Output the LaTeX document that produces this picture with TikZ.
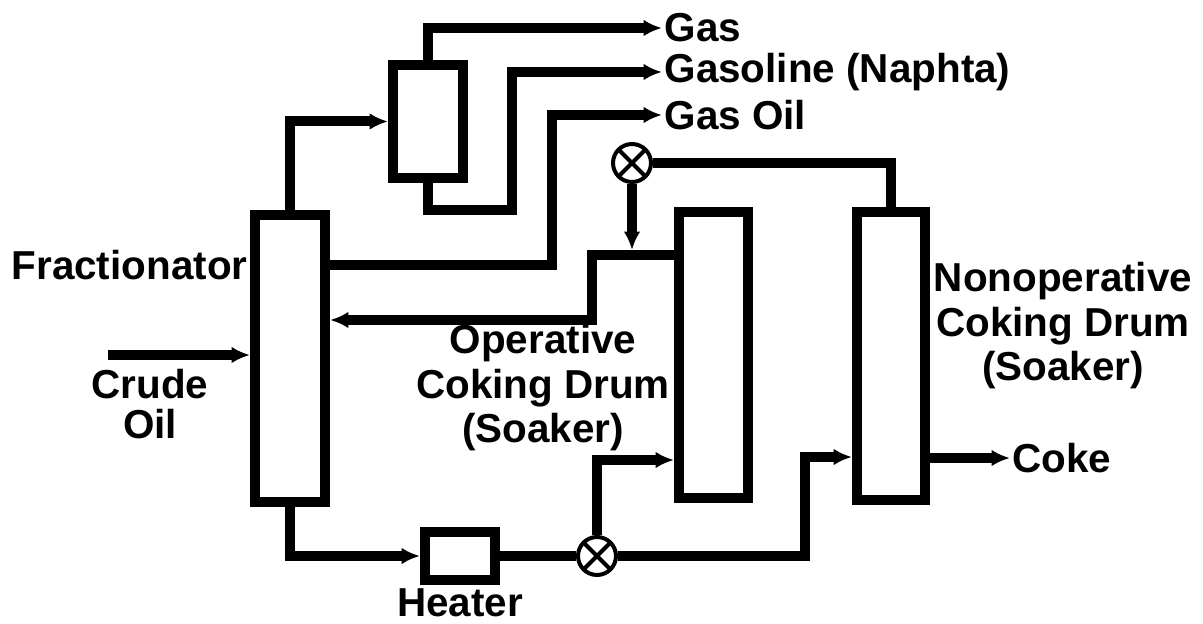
\documentclass[tikz,border=0pt]{standalone}
\usepackage{fontspec}
\setmainfont{Liberation Sans}
\usetikzlibrary{arrows.meta}

\begin{document}
\begin{tikzpicture}[x=0.03cm, y=-0.03cm,
		vessel/.style = {draw, rectangle, line width=0.3cm, inner sep=0pt},
		valve/.style = {draw, circle, line width=0.12cm, minimum size=1.14cm, inner sep=0pt,
			path picture = {\draw [line width=0.12cm]
				(path picture bounding box.north west) -- (path picture bounding box.south east)
				(path picture bounding box.north east) -- (path picture bounding box.south west);}},
		pipe/.style = {line width=0.3cm},
		flow/.style = {pipe, -{Latex[length=0.55cm, width=0.5cm]}},
		txt/.style = {font=\fontsize{34.5}{38}\selectfont\bfseries, inner sep=2pt, align=center}]
		
		%frame of the picture
		\useasboundingbox (0,0) rectangle (1203,624);
		
		%vessels
		\node [vessel, minimum width=2.1cm, minimum height=8.61cm] (frac) at (290,358.5) {};
		\node [vessel, minimum width=2.1cm, minimum height=3.39cm] (cond) at (428,121.5) {};
		\node [vessel, minimum width=2.07cm, minimum height=8.58cm] (op) at (713.5,355) {};
		\node [vessel, minimum width=2.04cm, minimum height=8.64cm] (nonop) at (891,356) {};
		\node [vessel, minimum width=2.1cm, minimum height=1.44cm] (heater) at (460,556) {};
		
		%valves
		\node [valve] (vtop) at (632,163) {};
		\node [valve] (vbot) at (597,556) {};
		
		%labels
		\node [txt, anchor=west] (gas) at (662,28) {Gas};
		\node [txt, anchor=west] (gasoline) at (662,72) {Gasoline (Naphta)};
		\node [txt, anchor=west] (gasoil) at (662,115) {Gas Oil};
		\node [txt, anchor=east] (fraclabel) at (250,265) {Fractionator};
		\node [txt, font=\fontsize{34.5}{34}\selectfont\bfseries] (crudelabel) at (150,404) {Crude\\Oil};
		\node [txt] (oplabel) at (543,388) {Operative\\Coking Drum\\(Soaker)};
		\node [txt] (nonoplabel) at (1063,326) {Nonoperative\\Coking Drum\\(Soaker)};
		\node [txt] (heaterlabel) at (460,603) {Heater};
		\node [txt, anchor=west] (coke) at (1010,458) {Coke};
		
		%free ends and bends
		\coordinate (crude) at (108,355);
		\coordinate (drop) at (632,250);
		
		%crude oil and fractionator products
		\draw [flow] (crude) -- (frac.west |- crude);
		\draw [flow] (frac.north) |- (cond.west);
		\draw [flow] (cond.north) |- (gas.west);
		\draw [flow] (cond.south) |- (512,210) |- (gasoline.west);
		\draw [flow] (frac.east |- 0,265) -| (552,115) -- (gasoil.west);
		
		%heater and coking drums
		\draw [flow] (frac.south) |- (heater.west);
		\draw [pipe] (heater.east) -- (vbot.west);
		\draw [flow] (vbot.north) |- (op.west |- 0,460);
		\draw [flow] (vbot.east) -| (805,457) -- (nonop.west |- 0,457);
		\draw [flow] (nonop.east |- coke.west) -- (coke.west);
		
		%vapour return
		\draw [pipe] (vtop.east) -| (nonop.north);
		\draw [flow] (vtop.south) -- (drop);
		\draw [flow] (op.west |- 0,255) -| (592,320) -- (frac.east |- 0,320);
		
	\end{tikzpicture}
\end{document}
